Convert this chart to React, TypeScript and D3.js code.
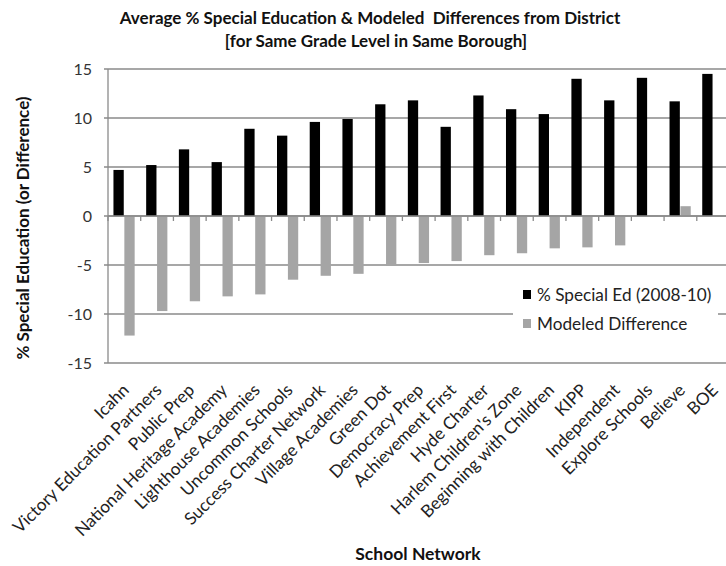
import * as d3 from "d3";

const NETWORKS = [
  "Icahn",
  "Victory Education Partners",
  "Public Prep",
  "National Heritage Academy",
  "Lighthouse Academies",
  "Uncommon Schools",
  "Success Charter Network",
  "Village Academies",
  "Green Dot",
  "Democracy Prep",
  "Achievement First",
  "Hyde Charter",
  "Harlem Children's Zone",
  "Beginning with Children",
  "KIPP",
  "Independent",
  "Explore Schools",
  "Believe",
  "BOE",
];

const SPECIAL_ED = [
  4.7, 5.2, 6.8, 5.5, 8.9, 8.2, 9.6, 9.9, 11.4, 11.8, 9.1, 12.3, 10.9, 10.4, 14.0, 11.8, 14.1, 11.7, 14.5,
];

const MODELED_DIFF = [
  -12.2, -9.7, -8.7, -8.2, -8.0, -6.5, -6.1, -5.9, -5.1, -4.8, -4.6, -4.0, -3.8, -3.3, -3.2, -3.0, 0.1, 1.0, 0,
];

const Y_TICKS = [-15, -10, -5, 0, 5, 10, 15];

const SERIES = [
  { key: "% Special Ed (2008-10)", color: "#000000", values: SPECIAL_ED },
  { key: "Modeled Difference", color: "#a5a5a5", values: MODELED_DIFF },
];

const W = 726;
const H = 566;
const FONT = "Lato, 'Open Sans', sans-serif";
const GRID = "#8a8a8a";

export default function App() {
  const plot = { left: 108, right: 729.5, top: 69, bottom: 363 };

  const y = d3.scaleLinear().domain([-15, 15]).range([plot.bottom, plot.top]);
  const x0 = d3.scaleBand<string>().domain(NETWORKS).range([plot.left, plot.right]);
  const bw = x0.bandwidth();
  const x1 = d3
    .scaleBand<string>()
    .domain(SERIES.map((s) => s.key))
    .range([bw / 6, (bw * 5) / 6]);

  const boundaries = d3.range(NETWORKS.length + 1).map((i) => plot.left + i * bw);

  return (
    <>
      <style>{"html,body{margin:0;padding:0;overflow:hidden;}"}</style>
      <svg width={W} height={H} style={{ display: "block", background: "#fff" }}>
        {/* titles */}
        <text x={370} y={24} textAnchor="middle" fontFamily={FONT} fontWeight={700} fontSize={17} fill="#111">
          Average % Special Education &amp; Modeled&#160; Differences from District
        </text>
        <text x={376} y={47} textAnchor="middle" fontFamily={FONT} fontWeight={700} fontSize={17} fill="#111">
          [for Same Grade Level in Same Borough]
        </text>

        {/* gridlines */}
        {Y_TICKS.map((t) => (
          <line key={t} x1={plot.left - 4} x2={plot.right} y1={y(t)} y2={y(t)} stroke={GRID} strokeWidth={1.3} />
        ))}
        <line x1={plot.left} x2={plot.left} y1={plot.top} y2={plot.bottom} stroke={GRID} strokeWidth={1.3} />

        {/* y tick labels */}
        {Y_TICKS.map((t) => (
          <text key={t} x={92} y={y(t)} dy="0.36em" textAnchor="end" fontFamily={FONT} fontSize={16} fill="#333">
            {t}
          </text>
        ))}

        {/* bars */}
        {SERIES.map((s) => (
          <g key={s.key}>
            {s.values.map((v, i) => (
              <rect
                key={i}
                x={(x0(NETWORKS[i]) ?? 0) + (x1(s.key) ?? 0)}
                width={x1.bandwidth() - 0.6}
                y={y(Math.max(0, v))}
                height={Math.abs(y(v) - y(0))}
                fill={s.color}
              />
            ))}
          </g>
        ))}

        {/* zero axis with category ticks */}
        <line x1={plot.left} x2={plot.right} y1={y(0)} y2={y(0)} stroke={GRID} strokeWidth={1.3} />
        {boundaries.map((bx, i) => (
          <line key={i} x1={bx} x2={bx} y1={y(0)} y2={y(0) + 5} stroke={GRID} strokeWidth={1.3} />
        ))}

        {/* legend */}
        <rect x={513} y={282} width={205} height={58} fill="#fff" />
        {SERIES.map((s, i) => (
          <g key={s.key} transform={`translate(523,${290 + i * 29})`}>
            <rect width={8} height={9} fill={s.color} />
            <text x={14} y={4.5} dy="0.36em" fontFamily={FONT} fontSize={17.2} fill="#222">
              {s.key}
            </text>
          </g>
        ))}

        {/* x labels */}
        {NETWORKS.map((n) => (
          <text
            key={n}
            transform={`translate(${(x0(n) ?? 0) + bw / 2 + 1.5},387) rotate(-45)`}
            textAnchor="end"
            dy="0.35em"
            fontFamily={FONT}
            fontSize={17.2}
            fill="#222"
          >
            {n}
          </text>
        ))}

        {/* axis titles */}
        <text x={418} y={560} textAnchor="middle" fontFamily={FONT} fontWeight={700} fontSize={17.5} fill="#111">
          School Network
        </text>
        <text
          transform="translate(29,228) rotate(-90)"
          textAnchor="middle"
          fontFamily={FONT}
          fontWeight={700}
          fontSize={17}
          fill="#111"
        >
          % Special Education (or Difference)
        </text>
      </svg>
    </>
  );
}
